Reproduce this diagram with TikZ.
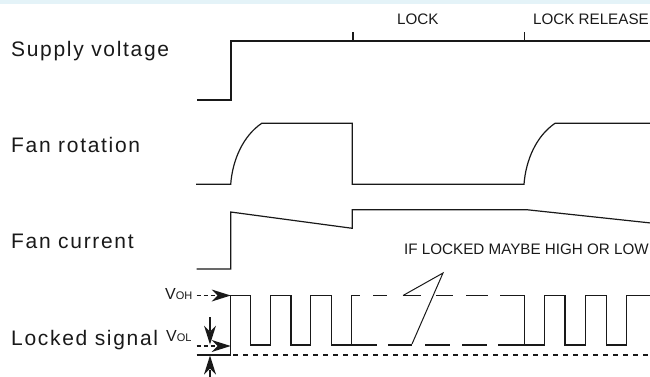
\documentclass[tikz,border=0pt]{standalone}
\usepackage{fontspec}
\setmainfont{Liberation Sans}
\newfontfamily\lblfont[LetterSpace=8]{Liberation Sans}
\definecolor{ink}{RGB}{25,25,25}
\definecolor{band}{RGB}{228,243,248}
\tikzset{
  wave/.style={draw=ink, line width=1.2pt, line join=miter},
  rowlabel/.style={anchor=base west, inner sep=0pt, font=\lblfont\fontsize{21}{24}\selectfont, text=ink},
  smalllabel/.style={anchor=base west, inner sep=0pt, font=\fontsize{15.2}{18}\selectfont, text=ink},
  dimline/.style={draw=ink, line width=1.3pt},
  dashline/.style={dimline, dash pattern=on 4pt off 3pt},
  lowdash/.style={draw=ink, line width=1.1pt, dash pattern=on 5pt off 5pt},
  tiphead/.pic={\fill[ink] (0,0) -- (-19,-6) -- (-13,0) -- (-19,6) -- cycle;},
}
\begin{document}
\begin{tikzpicture}[x=1pt,y=-1pt]
\useasboundingbox (0,0) rectangle (650,376);
\fill[band] (0,0) rectangle (650,4);

% labels
\node[rowlabel] (lsv) at (11,56) {Supply voltage};
\node[rowlabel] (lfr) at (11,152) {Fan rotation};
\node[rowlabel] (lfc) at (11,248) {Fan current};
\node[rowlabel] (lls) at (11,345) {Locked signal};
\node[smalllabel] (lock) at (397,24) {LOCK};
\node[smalllabel, anchor=base east] (lockrel) at (649,24) {LOCK RELEASE};
\node[smalllabel, anchor=base east] (iflock) at (649,254.3) {IF LOCKED MAYBE HIGH OR LOW};
\node[anchor=base west, inner sep=0pt, text=ink] (voh) at (165,299) {\fontsize{16}{18}\selectfont V\fontsize{11}{13}\selectfont OH};
\node[anchor=base west, inner sep=0pt, text=ink] (vol) at (166,341) {\fontsize{16}{18}\selectfont V\fontsize{11}{13}\selectfont OL};

% supply voltage
\draw[wave] (197,100) -- (231,100) -- (231,41) -- (650,41);
\draw[wave] (353,41) -- (353,31.5);
\draw[wave] (524.3,41) -- (524.3,31.5);

% fan rotation
\draw[wave] (196,184.3) -- (230.7,184.3)
  .. controls (232.5,160) and (243,136) .. (261.7,123.3)
  -- (352.3,123.3) -- (352.3,184.3) -- (524,184.3)
  .. controls (525.8,160) and (536.3,136) .. (555,123.3)
  -- (650,123.3);

% fan current
\draw[wave] (196.7,269) -- (230.7,269) -- (230.7,212) -- (352.3,228.3)
  -- (352.3,209.7) -- (526.7,209.7) -- (650,222.9);

% pointer lines
\coordinate (apex) at (443,273);
\coordinate (ptop) at (403,295.5);
\coordinate (pbot) at (412,344);
\draw[wave, line width=1pt] (ptop) -- (apex) -- (pbot);

% locked signal square wave
\draw[wave] (196.7,355) -- (230.7,355) -- (230.7,295.5) -- (250.7,295.5)
  -- (250.7,345) -- (270.7,345) -- (270.7,295.5) -- (291,295.5)
  -- (291,345) -- (310.7,345) -- (310.7,295.5) -- (331.7,295.5)
  -- (331.7,345) -- (351.7,345) -- (351.7,295.5) -- (360,295.5);
\draw[wave] (351.7,345) -- (377,345);
% dashed high level
\foreach \a/\b in {373/387,403/421,436/453,466/488}
  \draw[wave] (\a,295.5) -- (\b,295.5);
% dashed low level
\foreach \a/\b in {388/412,425/450,462/487}
  \draw[wave] (\a,345) -- (\b,345);
\draw[wave] (500,295.5) -- (524.3,295.5) -- (524.3,345) -- (498,345);
\draw[wave] (524.3,345) -- (544.3,345) -- (544.3,295.5) -- (565,295.5)
  -- (565,345) -- (585.7,345) -- (585.7,295.5) -- (606.7,295.5)
  -- (606.7,345) -- (626.7,345) -- (626.7,295.5) -- (650,295.5);

% dashed reference line
\draw[lowdash] (233,355) -- (650,355);

% VOH / VOL arrows
\coordinate (vohs) at (196.7,295.5);
\coordinate (voht) at (230.7,295.5);
\coordinate (vols) at (196.7,346);
\coordinate (volt) at (230.7,346);
\draw[dashline] (vohs) -- ([xshift=-14pt]voht);
\pic at (voht) {tiphead};
\draw[dashline] (vols) -- ([xshift=-14pt]volt);
\pic at (volt) {tiphead};
\coordinate (das) at (210,317);
\coordinate (dat) at (210,344.5);
\coordinate (dbs) at (210,378);
\coordinate (dbt) at (210,355.5);
\draw[dimline] (das) -- ([yshift=14pt]dat);
\pic[rotate=-90] at (dat) {tiphead};
\draw[dimline] (dbs) -- ([yshift=-14pt]dbt);
\pic[rotate=90] at (dbt) {tiphead};
\end{tikzpicture}
\end{document}
